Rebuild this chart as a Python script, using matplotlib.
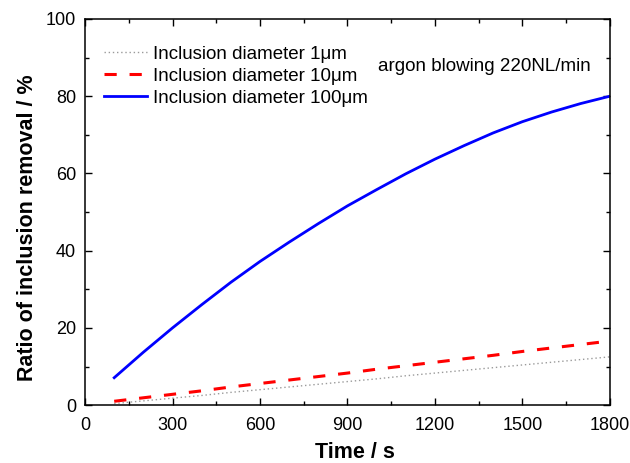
import numpy as np
import matplotlib
matplotlib.use('Agg')
import matplotlib.pyplot as plt
from matplotlib.ticker import MultipleLocator

plt.rcParams['font.family'] = ['Liberation Sans', 'DejaVu Sans']

# data
time_s = [100, 200, 300, 400, 500, 600, 700, 800, 900, 1000, 1100, 1200, 1300, 1400, 1500, 1600, 1700, 1800]
removal_1um = [0.4, 1.1, 1.8, 2.5, 3.3, 4.0, 4.7, 5.4, 6.1, 6.8, 7.6, 8.3, 9.0, 9.7, 10.4, 11.1, 11.8, 12.5]
removal_10um = [1.0, 1.9, 2.8, 3.7, 4.7, 5.6, 6.5, 7.4, 8.3, 9.3, 10.2, 11.1, 12.0, 12.9, 13.9, 14.8, 15.7, 16.6]
removal_100um = [7.1, 13.7, 20.0, 26.0, 31.8, 37.2, 42.2, 47.0, 51.6, 55.8, 59.9, 63.7, 67.2, 70.5, 73.4, 75.9, 78.1, 80.0]

labels = ['Inclusion diameter 1\u03bcm', 'Inclusion diameter 10\u03bcm', 'Inclusion diameter 100\u03bcm']

fig = plt.figure(figsize=(6.3, 4.63), dpi=100)
ax = fig.add_axes([0.135, 0.125, 0.833, 0.834])

ax.plot(time_s, removal_1um, color='#9a9a9a', linestyle=(0, (1, 2)), lw=1.0, label=labels[0])
ax.plot(time_s, removal_10um, color='#ff0000', linestyle=(0, (4, 4.2)), lw=2.2, label=labels[1])
ax.plot(time_s, removal_100um, color='#0000ff', linestyle='-', lw=2.0, label=labels[2])

ax.set_xlim(0, 1800)
ax.set_ylim(0, 100)
ax.xaxis.set_major_locator(MultipleLocator(300))
ax.xaxis.set_minor_locator(MultipleLocator(150))
ax.yaxis.set_major_locator(MultipleLocator(20))
ax.yaxis.set_minor_locator(MultipleLocator(10))
ax.tick_params(which='both', direction='in', top=True, right=True, labelsize=13, width=1)
ax.tick_params(which='major', length=5)
ax.tick_params(which='minor', length=3)
ax.tick_params(axis='x', pad=8.5)
ax.tick_params(axis='y', pad=6.4)
for s in ax.spines.values():
    s.set_linewidth(1.1)

ax.set_xlabel('Time / s', fontsize=15.5, fontweight='bold', va='top')
ax.xaxis.set_label_coords(0.515, -0.095)
ax.set_ylabel('Ratio of inclusion removal / %', fontsize=15.5, fontweight='bold')
ax.yaxis.set_label_coords(-0.09, 0.46)

ax.legend(loc='upper left', frameon=False, fontsize=13.5, handlelength=2.3,
          handletextpad=0.3, labelspacing=0.26, borderaxespad=0,
          bbox_to_anchor=(0.022, 0.951))
ax.text(0.558, 0.878, 'argon blowing 220NL/min', transform=ax.transAxes,
        fontsize=13.5, va='center')

fig.savefig('out.png', dpi=100)
